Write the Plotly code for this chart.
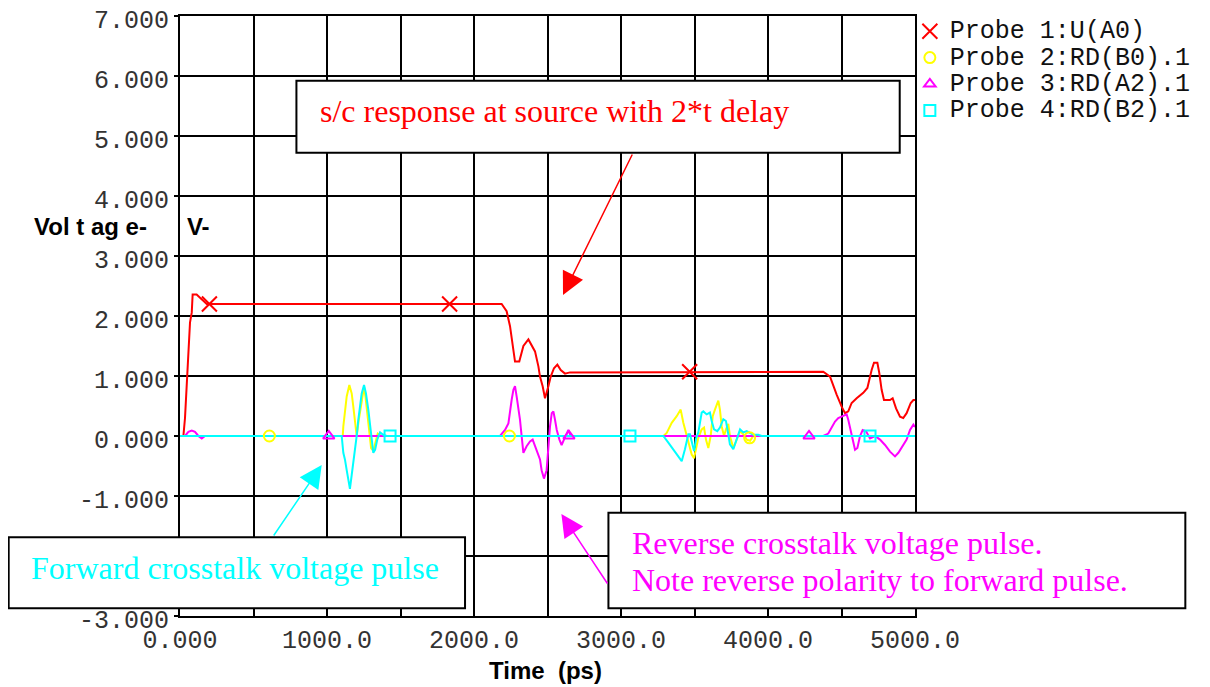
import plotly.graph_objects as go

# ---------------- data ----------------
probe_names = ["Probe 1:U(A0)", "Probe 2:RD(B0).1", "Probe 3:RD(A2).1", "Probe 4:RD(B2).1"]

# Probe 1 : U(A0)  (red)
p1_t = [0, 23, 34, 45, 57, 68, 80, 86, 113, 182, 2188, 2222, 2245, 2256, 2268, 2279, 2308, 2336,
        2370, 2392, 2415, 2438, 2449, 2467, 2483, 2506, 2522, 2544, 2567, 2590, 2619, 2653,
        4376, 4422, 4444, 4467, 4501, 4524, 4546, 4569, 4603, 4648, 4676, 4689, 4705, 4721,
        4744, 4757, 4773, 4789, 4830, 4848, 4871, 4898, 4920, 4943, 4971, 4989, 5000]
p1_v = [0, 0, 0.3, 0.83, 1.36, 1.89, 2.06, 2.36, 2.36, 2.2, 2.2, 2.08, 1.83, 1.61, 1.44, 1.24, 1.24, 1.5,
        1.61, 1.52, 1.41, 1.16, 0.99, 0.83, 0.63, 0.83, 0.99, 1.13, 1.19, 1.1, 1.04, 1.06,
        1.07, 0.99, 0.83, 0.69, 0.49, 0.38, 0.41, 0.55, 0.63, 0.72, 0.8, 0.94, 1.1, 1.22,
        1.22, 1.05, 0.77, 0.6, 0.6, 0.63, 0.46, 0.32, 0.3, 0.38, 0.55, 0.6, 0.6]

# Probe 2 : RD(B0).1  (yellow)
p2_t = [0, 1107, 1111, 1122, 1134, 1152, 1168, 1179, 1190, 1202, 1215, 1230, 1245, 1252, 1262, 1275,
        1285, 1300, 1315, 1330, 1345, 1370, 3288, 3311, 3345, 3379, 3406, 3424, 3447, 3465, 3481,
        3497, 3510, 3526, 3549, 3565, 3578, 3594, 3610, 3624, 3639, 3662, 3673, 3685, 3701, 3714,
        3730, 3741, 3764, 3787, 3810, 3832, 3855, 3878, 3900, 5000]
p2_v = [0, 0, 0.16, 0.44, 0.66, 0.85, 0.71, 0.49, 0.21, 0, 0.25, 0.5, 0.75, 0.82, 0.65, 0.35,
        0.05, -0.2, -0.25, -0.1, 0.04, 0, 0, 0.05, 0.22, 0.33, 0.44, 0.22, 0, -0.17, -0.31,
        -0.37, -0.22, -0.03, 0.11, 0.14, -0.06, -0.2, 0, 0.33, 0.44, 0.59, 0.44, 0.16, 0, 0.11,
        0.2, 0, -0.2, -0.05, 0.08, 0.03, -0.06, -0.08, 0, 0]

# Probe 3 : RD(A2).1  (magenta)
p3_t = [0, 34, 57, 80, 102, 125, 148, 170, 2177, 2211, 2234, 2245, 2256, 2268, 2279, 2290, 2302,
        2313, 2324, 2336, 2358, 2381, 2399, 2415, 2431, 2449, 2460, 2476, 2494, 2506, 2517, 2529,
        2540, 2551, 2563, 2581, 2596, 2612, 2642, 2658, 4376, 4410, 4433, 4456, 4478, 4512, 4535,
        4546, 4563, 4576, 4592, 4608, 4626, 4644, 4667, 4694, 4728, 4762, 4796, 4830, 4864, 4887,
        4909, 4943, 4966, 4989, 5000]
p3_v = [0, 0, 0.07, 0.09, 0.07, 0.0, -0.04, 0, 0, 0.1, 0.21, 0.44, 0.6, 0.77, 0.83, 0.66, 0.49,
        0.27, 0, -0.28, -0.17, -0.09, -0.06, -0.17, -0.28, -0.39, -0.57, -0.71, -0.57, -0.17, 0.16, 0.38,
        0.41, 0.27, 0.1, -0.06, -0.15, -0.06, 0.1, 0, 0, 0.04, 0.13, 0.24, 0.3, 0.33, 0.36,
        0.27, 0.1, -0.06, -0.23, -0.2, 0, 0.1, 0.08, -0.04, 0, -0.06, -0.15, -0.26, -0.34, -0.28,
        -0.2, -0.06, 0.1, 0.19, 0.15]

# Probe 4 : RD(B2).1  (cyan)
p4_t = [0, 1100, 1111, 1122, 1134, 1145, 1156, 1168, 1179, 1190, 1202, 1213, 1224, 1236, 1252, 1265,
        1281, 1293, 1304, 1315, 1327, 1342, 1361, 1383, 1406, 3288, 3322, 3356, 3390, 3413, 3435,
        3458, 3469, 3481, 3497, 3510, 3526, 3549, 3560, 3583, 3605, 3617, 3633, 3655, 3673, 3696,
        3714, 3730, 3741, 3764, 3787, 3810, 3832, 3855, 3900, 3934, 3957, 5000]
p4_v = [0, 0, -0.28, -0.39, -0.57, -0.74, -0.88, -0.65, -0.46, -0.23, 0, 0.27, 0.49, 0.71, 0.85, 0.71,
        0.44, 0.16, -0.06, -0.28, -0.23, -0.06, 0.06, 0.02, 0, 0, -0.11, -0.22, -0.33, -0.42, -0.22,
        0.03, 0.03, -0.11, -0.25, -0.05, 0.06, 0.39, 0.41, 0.36, 0.39, 0.25, 0.11, 0.08, 0.14, 0.28,
        0.25, 0.03, -0.14, -0.22, -0.05, 0.11, 0.06, 0.08, 0.02, 0.02, 0, 0]

# marker positions (probe symbols)
p1_mark_t = [200, 1834, 3467]
p1_mark_v = [2.2, 2.2, 1.07]
p2_mark_t = [608, 2241, 3875]
p2_mark_v = [0, 0, -0.03]
p3_mark_t = [1012, 2646, 4279]
p3_mark_v = [0, 0, 0]
p4_mark_t = [1429, 3061, 4694]
p4_mark_v = [0, 0, 0]

x_tick_vals = [0, 500, 1000, 1500, 2000, 2500, 3000, 3500, 4000, 4500, 5000]
x_tick_text = ["0.000", "", "1000.0", "", "2000.0", "", "3000.0", "", "4000.0", "", "5000.0"]
y_tick_vals = [-3, -2, -1, 0, 1, 2, 3, 4, 5, 6, 7]
y_tick_text = ["-3.000", "-2.000", "-1.000", "0.000", "1.000", "2.000", "3.000",
               "4.000", "5.000", "6.000", "7.000"]

x_title = "Time  (ps)"
y_title = "Vol t ag e-" + "&nbsp;" * 6 + "V-"
note_red = "s/c response at source with 2*t delay"
note_cyan = "Forward crosstalk voltage pulse"
note_mag_1 = "Reverse crosstalk voltage pulse."
note_mag_2 = "Note reverse polarity to forward pulse."

# ---------------- figure ----------------
RED, YEL, MAG, CYA = "#ff0000", "#ffff00", "#ff00ff", "#00ffff"
colors = [RED, YEL, MAG, CYA]
fig = go.Figure()

lines = [(p1_t, p1_v), (p2_t, p2_v), (p3_t, p3_v), (p4_t, p4_v)]
for (t, v), c in zip(lines, colors):
    fig.add_trace(go.Scatter(x=t, y=v, mode="lines", line=dict(color=c, width=2),
                             showlegend=False, hoverinfo="skip"))

marks = [(p1_mark_t, p1_mark_v, "x-thin", 15),
         (p2_mark_t, p2_mark_v, "circle-open", 11),
         (p3_mark_t, p3_mark_v, "triangle-up-open", 10),
         (p4_mark_t, p4_mark_v, "square-open", 11)]
for (t, v, sym, sz), c, nm in zip(marks, colors, probe_names):
    fig.add_trace(go.Scatter(
        x=t, y=v, mode="markers",
        name='<span style="font-size:25px">' + nm + '</span>',
        marker=dict(symbol=sym, size=sz, color=c, line=dict(color=c, width=2))))

mono = "Liberation Mono, Courier New, monospace"
fig.update_layout(
    width=1202, height=679,
    margin=dict(l=172, r=295, t=8, b=71, autoexpand=False),
    paper_bgcolor="white", plot_bgcolor="white",
    showlegend=True,
    legend=dict(x=0.993, y=1.005, xanchor="left", yanchor="top",
                font=dict(family=mono, size=18, color="#111"),
                bgcolor="rgba(0,0,0,0)", borderwidth=0, tracegroupgap=0),
    xaxis=dict(range=[0, 5000], tickvals=x_tick_vals, ticktext=x_tick_text,
               showgrid=True, gridcolor="black", gridwidth=2, zeroline=False,
               showline=True, linecolor="black", linewidth=2, mirror=True,
               ticks="", ticklabeloverflow="allow",
               tickfont=dict(family=mono, size=25, color="#333")),
    yaxis=dict(range=[-3, 7], tickvals=y_tick_vals, ticktext=y_tick_text,
               showgrid=True, gridcolor="black", gridwidth=2, zeroline=False,
               showline=True, linecolor="black", linewidth=2, mirror=True,
               ticks="outside", ticklen=4, tickwidth=2, tickcolor="black",
               ticklabeloverflow="allow", ticklabelshift=3,
               tickfont=dict(family=mono, size=25, color="#333")),
)

# text boxes (paper coordinates)
box_line = dict(color="black", width=2)
fig.add_shape(type="rect", xref="paper", yref="paper", x0=0.1584, x1=0.9792, y0=0.7722, y1=0.8922,
              line=box_line, fillcolor="white", layer="above")
fig.add_shape(type="rect", xref="paper", yref="paper", x0=-0.2331, x1=0.3878, y0=0.0128, y1=0.1312,
              line=box_line, fillcolor="white", layer="above")
fig.add_shape(type="rect", xref="paper", yref="paper", x0=0.5829, x1=1.3678, y0=0.0128, y1=0.1722,
              line=box_line, fillcolor="white", layer="above")

serif = "Liberation Serif, Times New Roman, serif"
fig.add_annotation(xref="paper", yref="paper", x=0.1873, y=0.842, xanchor="left", yanchor="middle",
                   text=note_red, showarrow=False, font=dict(family=serif, size=32, color=RED))
fig.add_annotation(xref="paper", yref="paper", x=-0.205, y=0.080, xanchor="left", yanchor="middle",
                   text=note_cyan, showarrow=False, font=dict(family=serif, size=32, color=CYA))
fig.add_annotation(xref="paper", yref="paper", x=0.6118, y=0.122, xanchor="left", yanchor="middle",
                   text=note_mag_1, showarrow=False, font=dict(family=serif, size=32, color=MAG))
fig.add_annotation(xref="paper", yref="paper", x=0.6118, y=0.060, xanchor="left", yanchor="middle",
                   text=note_mag_2, showarrow=False, font=dict(family=serif, size=32, color=MAG))

# arrows
for (tx, ty, ax, ay, c) in [(0.5211, 0.535, 70, -142, RED),
                            (0.1928, 0.2517, -49, 72, CYA),
                            (0.5189, 0.170, 47, 71, MAG)]:
    fig.add_annotation(xref="paper", yref="paper", x=tx, y=ty, ax=ax, ay=ay,
                       text="", showarrow=True, arrowhead=2, arrowsize=3,
                       arrowwidth=1.5, arrowcolor=c, standoff=0, startstandoff=0)

# axis titles
fig.add_annotation(xref="paper", yref="paper", x=-0.2007, y=0.650, xanchor="left", yanchor="middle",
                   text="<b>" + y_title + "</b>", showarrow=False,
                   font=dict(family="Liberation Sans, Arial, sans-serif", size=24, color="black"))
fig.add_annotation(xref="paper", yref="paper", x=0.4966, y=-0.090, xanchor="center", yanchor="middle",
                   text="<b>" + x_title + "</b>", showarrow=False,
                   font=dict(family="Liberation Sans, Arial, sans-serif", size=24, color="black"))

fig.write_html("out.html")
